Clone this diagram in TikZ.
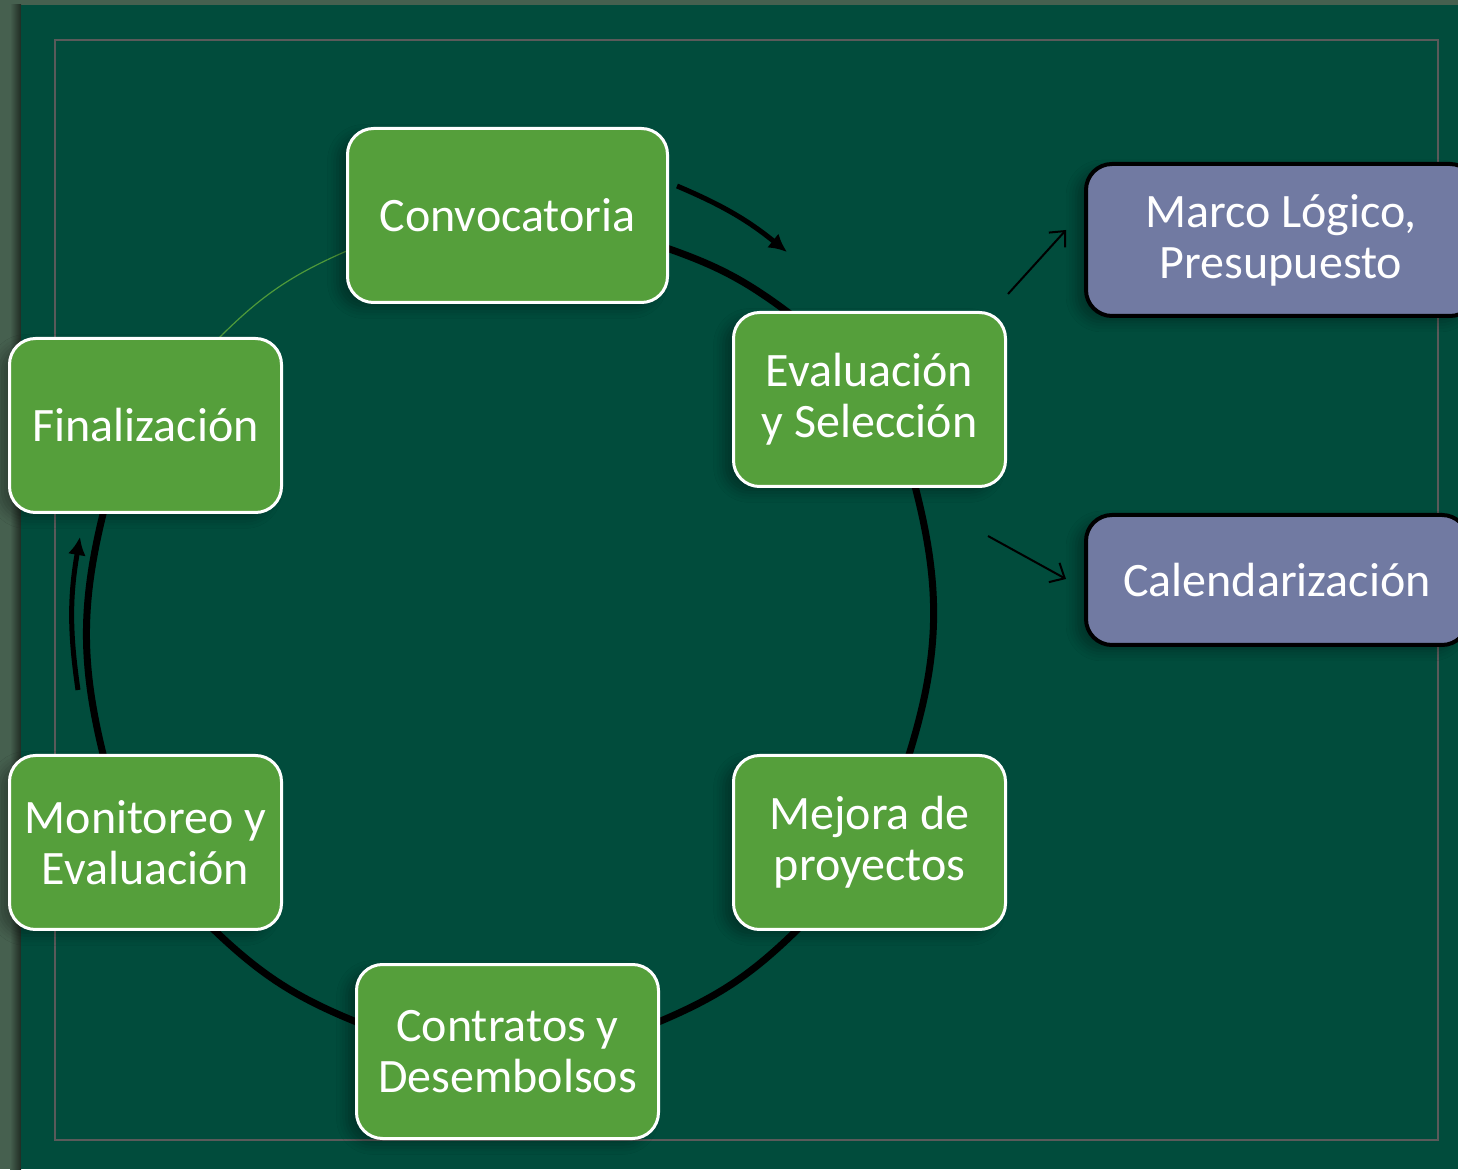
\documentclass[tikz,border=0pt]{standalone}
\usepackage{fontspec}
\setmainfont{Carlito}
\usetikzlibrary{arrows.meta,shadows.blur,backgrounds}
\definecolor{bggreen}{HTML}{014C3C}
\definecolor{sidegray}{HTML}{46604F}
\definecolor{boxgreen}{HTML}{559F3B}
\definecolor{boxblue}{HTML}{717AA2}
\definecolor{framegray}{HTML}{5A5A5A}
\definecolor{thingreen}{HTML}{4F9A3A}

\begin{document}
\begin{tikzpicture}[x=0.5pt,y=0.5pt,
  stage/.style={draw=white,line width=1.5pt,fill=boxgreen,rounded corners=13pt,
    minimum width=136pt,minimum height=87pt,align=center,text=white,inner sep=0pt,
    font=\fontsize{24}{25.5}\selectfont,
    blur shadow={shadow xshift=-5pt,shadow yshift=-3pt,shadow opacity=30,shadow blur radius=5pt}},
  extra/.style={stage,draw=black,line width=2pt,fill=boxblue},
  cycle/.style={line width=3.5pt},
  turn/.style={line width=2.5pt,-{Latex[length=9pt,width=9pt]}},
  side/.style={line width=1pt,-{Straight Barb[length=6pt,width=11pt]}}]

\useasboundingbox (0,0) rectangle (1458,1169);

\node[stage,minimum width=160pt] (conv) at (507.5,953.5) {Convocatoria};
\node[stage] (eval) at (869.5,769.5) {Evaluación\\y Selección};
\node[stage] (mej) at (869.5,326.5) {Mejora de\\proyectos};
\node[stage,minimum width=151pt] (contr) at (507.5,117.5) {Contratos y\\Desembolsos};
\node[stage] (monit) at (145.5,326.5) {Monitoreo y\\Evaluación};
\node[stage] (fin) at (145.5,743.5) {Finalización};

\node[extra,minimum width=195pt,minimum height=76pt] (marco) at (1281,929) {Marco Lógico,\\Presupuesto};
\node[extra,minimum width=191pt,minimum height=65pt] (cal) at (1277,589) {Calendarización};

\begin{pgfonlayer}{background}
\fill[sidegray] (0,0) rectangle (1458,1169);
\shade[left color=sidegray,right color=black!55!sidegray] (10,0) rectangle (21,1164);
\fill[bggreen] (21,0) rectangle (1458,1164);
\draw[framegray,line width=0.8pt] (55,29) rectangle (1438,1129);

% cycle
\draw[cycle] ([shift={(-4,-32)}]conv.east) to[bend left=9] ([shift={(-78,-4)}]eval.north);
\draw[cycle] ([shift={(45.5,2)}]eval.south) to[bend left=16] ([shift={(38.5,-4)}]mej.north);
\draw[cycle] ([shift={(-69.5,4)}]mej.south) to[bend left=11] ([shift={(-4,28.5)}]contr.east);
\draw[cycle] ([shift={(4,28.5)}]contr.west) to[bend left=11] ([shift={(65.5,4)}]monit.south);
\draw[cycle] ([shift={(-41.5,-4)}]monit.north) to[bend left=14] ([shift={(-41.5,4)}]fin.south);
\draw[thingreen,line width=0.6pt] ([shift={(71.5,-3)}]fin.north) to[bend left=11] ([shift={(3,-34.5)}]conv.west);
\end{pgfonlayer}

\draw[turn] ([shift={(8,29.5)}]conv.east) to[bend left=8] ([shift={(-82.5,59)}]eval.north);
\draw[turn] ([shift={(-67.5,64)}]monit.north) to[bend left=9] ([shift={(-65.5,-23)}]fin.south);

\draw[side] ([shift={(1,17)}]eval.north east) -- ([shift={(-18,10)}]marco.west);
\draw[side] ([shift={(-19,-48)}]eval.south east) -- ([shift={(-18,1)}]cal.west);
\end{tikzpicture}
\end{document}
